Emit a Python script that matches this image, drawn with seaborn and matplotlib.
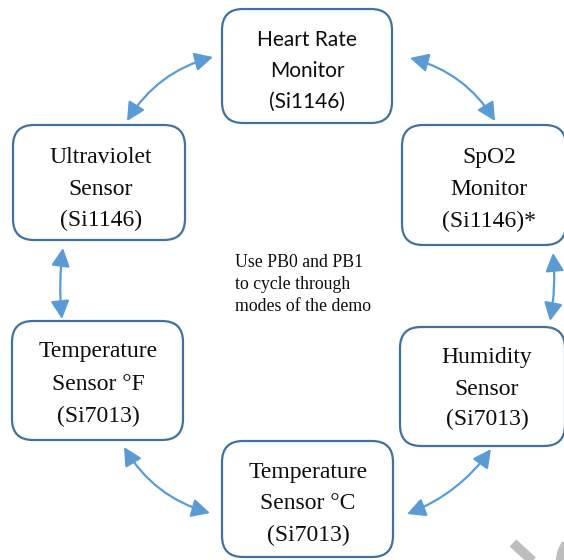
"""
Demo mode cycle diagram: six sensor modes arranged in a ring,
linked by double-headed curved arrows.
"""
import matplotlib
matplotlib.use("Agg")
import matplotlib.pyplot as plt
from matplotlib.patches import FancyBboxPatch, FancyArrowPatch, Arc
import seaborn as sns

# ---- content -------------------------------------------------------------
node_labels = [
    ["Heart Rate", "Monitor", "(Si1146)"],
    ["SpO2", "Monitor", "(Si1146)*"],
    ["Humidity", "Sensor", "(Si7013)"],
    ["Temperature", "Sensor °C", "(Si7013)"],
    ["Temperature", "Sensor °F", "(Si7013)"],
    ["Ultraviolet", "Sensor", "(Si1146)"],
]
note_lines = ["Use PB0 and PB1", "to cycle through", "modes of the demo"]

# ---- layout (pixel space, y down) ----------------------------------------
boxes = [  # x0, y0, x1, y1
    (222, 9, 392, 123),
    (402, 125, 566, 245),
    (400, 327, 565, 446),
    (222, 441, 393, 557),
    (12, 321, 183, 440),
    (13, 125, 185, 240),
]
text_x = [307, 489, 487, 308, 98, 101]
baselines = [
    (46, 77, 108),
    (163, 195, 227),
    (363, 395, 425),
    (478, 509, 541),
    (357, 390, 422),
    (163, 195, 226),
]
node_fonts = ["Lato"] + ["Liberation Serif"] * 5
node_sizes = [15] + [17] * 5

links = [  # start, end, arc3 rad
    ((127, 121), (213, 57), -0.2),
    ((410, 58), (495, 121), -0.2),
    ((553, 253), (550, 321), -0.07),
    ((491, 449), (407, 514), -0.15),
    ((124, 447), (210, 513), 0.2),
    ((62, 319), (63, 248), -0.06),
]

EDGE = "#41719C"
ARROW = "#5B9BD5"

sns.set_theme(style="white")

fig = plt.figure(figsize=(5.64, 5.6), dpi=100)
ax = fig.add_axes([0, 0, 1, 1])
ax.set_xlim(0, 564)
ax.set_ylim(560, 0)
ax.axis("off")

for (x0, y0, x1, y1), lines, tx, ys, fam, fs in zip(
        boxes, node_labels, text_x, baselines, node_fonts, node_sizes):
    ax.add_patch(FancyBboxPatch((x0, y0), x1 - x0, y1 - y0,
                                boxstyle="round,pad=0,rounding_size=21",
                                facecolor="white", edgecolor=EDGE, linewidth=1.6))
    for line, y in zip(lines, ys):
        ax.text(tx, y, line, ha="center", va="baseline",
                family=fam, fontsize=fs, color="#0d0d0d")

for line, y in zip(note_lines, (267, 289, 311)):
    ax.text(235, y, line, ha="left", va="baseline",
            family="Liberation Serif", fontsize=12.8, color="#0d0d0d")

for a, b, rad in links:
    ax.add_patch(FancyArrowPatch(a, b, connectionstyle=f"arc3,rad={rad}",
                                 arrowstyle="<|-|>,head_length=0.55,head_width=0.28",
                                 mutation_scale=20, lw=1.6, color=ARROW,
                                 shrinkA=0, shrinkB=0))

# faint watermark fragment in the corner
ax.plot([513, 538], [543, 566], color="#BDBDBD", lw=7, solid_capstyle="butt")
ax.add_patch(Arc((592, 562), 64, 64, theta1=150, theta2=215,
                 color="#BDBDBD", lw=6))

fig.savefig("out.png", dpi=100)
plt.close(fig)
